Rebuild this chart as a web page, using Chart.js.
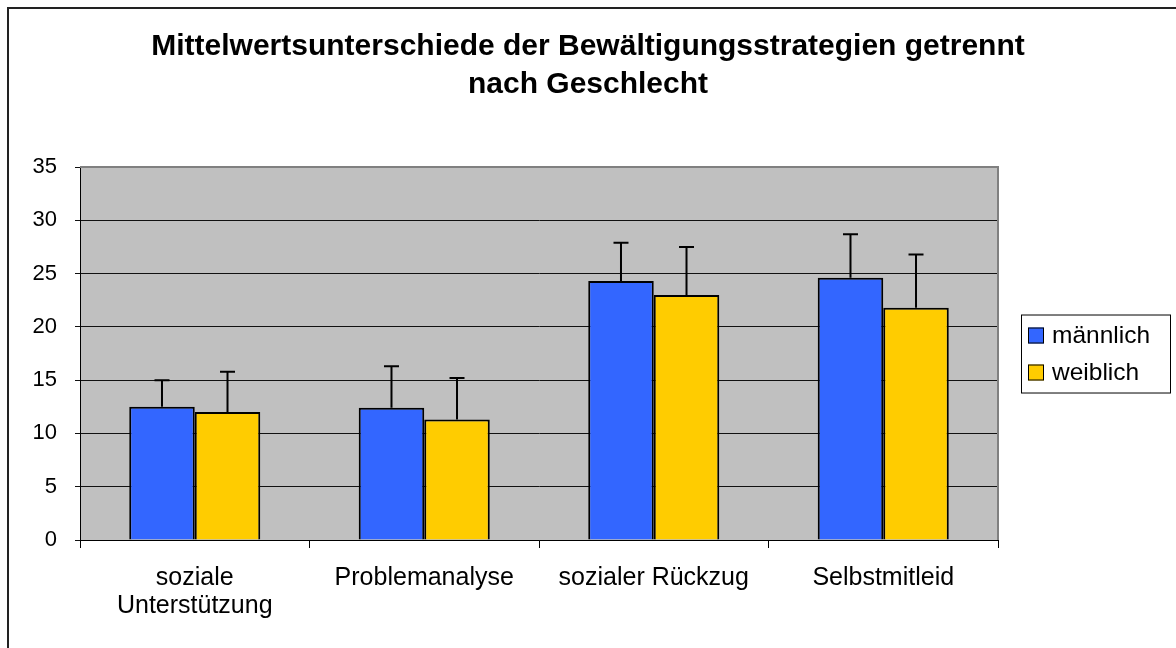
<!DOCTYPE html>
<html>
<head>
<meta charset="utf-8">
<script src="https://cdn.jsdelivr.net/npm/chart.js@4/dist/chart.umd.min.js"></script>
<style>
  html, body { margin: 0; padding: 0; background: #fff; }
  #wrap { width: 1176px; height: 648px; }
</style>
</head>
<body>
<div id="wrap"><canvas id="barChart" width="1176" height="648"></canvas></div>
<script>
const categories = [["soziale", "Unterstützung"], "Problemanalyse", "sozialer Rückzug", "Selbstmitleid"];
const seriesNames = ["männlich", "weiblich"];
const maleMeans = [12.5, 12.4, 24.3, 24.6];
const femaleMeans = [12.0, 11.3, 23.0, 21.8];
const maleErrors = [2.5, 3.9, 3.6, 4.1];
const femaleErrors = [3.8, 3.9, 4.5, 5.0];
const yTicks = [0, 5, 10, 15, 20, 25, 30, 35];

Chart.defaults.font.family = "'Liberation Sans', Arial, sans-serif";
Chart.defaults.color = '#000';

// grey plot background and the thin frame round the whole picture
const backgroundPlugin = {
  id: 'background',
  beforeDraw(chart) {
    const ctx = chart.ctx;
    const a = chart.chartArea;
    ctx.save();
    ctx.fillStyle = '#c0c0c0';
    ctx.fillRect(a.left, a.top, a.right - a.left, a.bottom - a.top);
    ctx.strokeStyle = '#222';
    ctx.lineWidth = 2;
    ctx.beginPath();
    ctx.moveTo(8, chart.height);
    ctx.lineTo(8, 8);
    ctx.lineTo(chart.width, 8);
    ctx.stroke();
    ctx.restore();
  },
  afterDraw(chart) {
    const ctx = chart.ctx;
    const a = chart.chartArea;
    ctx.save();
    ctx.strokeStyle = '#808080';
    ctx.lineWidth = 2;
    ctx.beginPath();
    ctx.moveTo(a.left, a.top);
    ctx.lineTo(a.right, a.top);
    ctx.lineTo(a.right, a.bottom);
    ctx.stroke();
    ctx.restore();
  }
};

// standard deviation whiskers above each bar
const errorBarPlugin = {
  id: 'errorBars',
  afterDatasetsDraw(chart) {
    const ctx = chart.ctx;
    const y = chart.scales.y;
    ctx.save();
    ctx.strokeStyle = '#000';
    ctx.lineWidth = 2;
    chart.data.datasets.forEach((ds, i) => {
      const meta = chart.getDatasetMeta(i);
      meta.data.forEach((bar, j) => {
        const top = y.getPixelForValue(ds.data[j] + ds.errors[j]);
        ctx.beginPath();
        ctx.moveTo(bar.x, bar.y);
        ctx.lineTo(bar.x, top);
        ctx.moveTo(bar.x - 7.5, top);
        ctx.lineTo(bar.x + 7.5, top);
        ctx.stroke();
      });
    });
    ctx.restore();
  }
};

// boxed legend to the right of the plot
const legendBoxPlugin = {
  id: 'legendBox',
  afterDraw(chart) {
    const ctx = chart.ctx;
    const a = chart.chartArea;
    const left = a.right + 23;
    const mid = (a.top + a.bottom) / 2;
    const top = mid - 39;
    ctx.save();
    ctx.strokeStyle = '#000';
    ctx.lineWidth = 1;
    ctx.strokeRect(left + 0.5, top + 0.5, 149, 78);
    ctx.font = "24.5px 'Liberation Sans', Arial, sans-serif";
    ctx.textBaseline = 'middle';
    chart.data.datasets.forEach((ds, i) => {
      const cy = top + 21 + i * 37;
      ctx.fillStyle = ds.backgroundColor;
      ctx.fillRect(left + 7, cy - 8, 16, 16);
      ctx.strokeRect(left + 7.5, cy - 7.5, 15, 15);
      ctx.fillStyle = '#000';
      ctx.fillText(ds.label, left + 31, cy + 1);
    });
    ctx.restore();
  }
};

const ctx = document.getElementById('barChart').getContext('2d');

const data = {
  labels: categories,
  datasets: [
    {
      label: seriesNames[0],
      data: maleMeans,
      errors: maleErrors,
      backgroundColor: '#3366ff',
      borderColor: '#000',
      borderWidth: 2,
    },
    {
      label: seriesNames[1],
      data: femaleMeans,
      errors: femaleErrors,
      backgroundColor: '#ffcc00',
      borderColor: '#000',
      borderWidth: 2,
    }
  ]
};

const options = {
  responsive: false,
  animation: false,
  layout: { padding: 0 },
  categoryPercentage: 0.571,
  barPercentage: 1,
  scales: {
    x: {
      grid: {
        offset: true,
        drawOnChartArea: false,
        tickLength: 8,
        color: '#000',
      },
      border: { color: '#000' },
      ticks: {
        padding: 16,
        font: { size: 25, lineHeight: 1.12 },
        maxRotation: 0,
        autoSkip: false,
      },
      afterFit: s => { s.height = 108; }
    },
    y: {
      min: 0,
      max: 35,
      afterBuildTicks: s => { s.ticks = yTicks.map(v => ({ value: v })); },
      grid: { color: '#111', tickLength: 5 },
      border: { color: '#000' },
      ticks: { padding: 18, font: { size: 22 } },
      afterFit: s => { s.width = 80; }
    },
    spacer: {
      position: 'right',
      display: true,
      grid: { display: false },
      border: { display: false },
      ticks: { display: false },
      afterFit: s => { s.width = 178; }
    }
  },
  plugins: {
    legend: { display: false },
    tooltip: { enabled: false },
    title: {
      display: true,
      text: ['Mittelwertsunterschiede der Bewältigungsstrategien getrennt', 'nach Geschlecht'],
      color: '#000',
      font: { size: 30, weight: 'bold', lineHeight: 1.267 },
      padding: { top: 28, bottom: 63 }
    }
  }
};

const barChart = new Chart(ctx, {
  type: 'bar',
  data: data,
  options: options,
  plugins: [backgroundPlugin, errorBarPlugin, legendBoxPlugin]
});
</script>
</body>
</html>
